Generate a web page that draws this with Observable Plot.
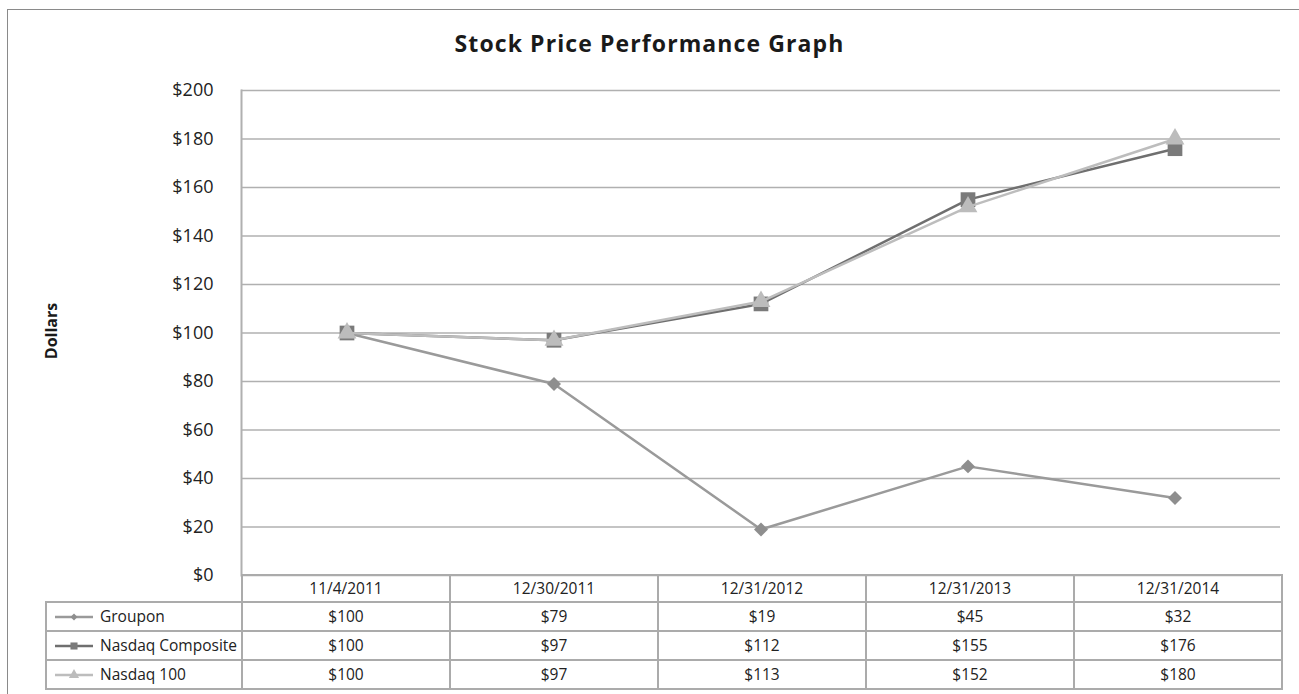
<!DOCTYPE html>
<html>
<head>
<meta charset="utf-8">
<script src="https://cdn.jsdelivr.net/npm/d3@7"></script>
<script src="https://cdn.jsdelivr.net/npm/@observablehq/plot@0.6"></script>
<style>
  html, body { margin: 0; padding: 0; background: #fff; }
  body { font-family: "Open Sans", sans-serif; color: #222; }
  #wrap { position: relative; width: 1299px; height: 694px; overflow: hidden; }
  #frame { position: absolute; left: 7px; top: 9px; width: 1320px; height: 720px; border: 1.5px solid #8a8a8a; box-sizing: border-box; }
  #title { position: absolute; left: 0; width: 1299px; top: 27px; text-align: center; font-weight: 700; font-size: 23px; letter-spacing: 1.1px; color: #1a1a1a; }
  #ylab { position: absolute; left: 51px; top: 331px; transform: translate(-50%, -50%) rotate(-90deg); font-weight: 700; font-size: 16px; color: #1a1a1a; white-space: nowrap; }
  #chart { position: absolute; left: 0; top: 0; }
  #tbl { position: absolute; left: 45px; top: 574px; border-collapse: collapse; table-layout: fixed; width: 1236px; font-size: 15.5px; color: #222; }
  #tbl td { border: 2px solid #ababab; text-align: center; padding: 0; height: 27px; line-height: 25px; white-space: nowrap; overflow: hidden; }
  #tbl tr.hdr td { height: 25px; }
  #tbl td.blank { border-top: none; border-left: none; }
  #tbl td.name { text-align: left; padding-left: 8px; }
  #tbl td.name svg { vertical-align: middle; margin-right: 7px; position: relative; top: -1px; }
</style>
</head>
<body>
<div id="wrap">
  <div id="frame"></div>
  <div id="chart"></div>
  <div id="title">Stock Price Performance Graph</div>
  <div id="ylab">Dollars</div>
  <table id="tbl"></table>
</div>
<script>
const dates = ["11/4/2011", "12/30/2011", "12/31/2012", "12/31/2013", "12/31/2014"];
const seriesNames = ["Groupon", "Nasdaq Composite", "Nasdaq 100"];
const groupon = [100, 79, 19, 45, 32];
const composite = [100, 97, 112, 155, 176];
const nasdaq100 = [100, 97, 113, 152, 180];
const yTicks = [0, 20, 40, 60, 80, 100, 120, 140, 160, 180, 200];

const lineColors = ["#9a9a9a", "#6f6f6f", "#bdbdbd"];
const markColors = ["#8e8e8e", "#7a7a7a", "#bcbcbc"];
const symbols = ["diamond2", "square", "triangle"];
const symbolR = [6.3, 8.3, 7];

const seriesValues = [groupon, composite, nasdaq100];
const rows = [];
seriesValues.forEach((vals, s) => vals.forEach((v, i) => rows.push({series: seriesNames[s], s, date: dates[i], value: v})));

const marks = [
  Plot.gridY(yTicks, {stroke: "#b0b0b0", strokeOpacity: 1, strokeWidth: 1.5}),
  Plot.axisY(yTicks, {tickSize: 0, tickPadding: 28, tickFormat: d => "$" + d, fontSize: 18, label: null, fill: "#222"}),
  Plot.frame({anchor: "left", stroke: "#b0b0b0", strokeWidth: 2})
];
seriesNames.forEach((name, s) => {
  const data = rows.filter(r => r.s === s);
  marks.push(Plot.line(data, {x: "date", y: "value", stroke: lineColors[s], strokeWidth: 2.5}));
  marks.push(Plot.dot(data, {x: "date", y: "value", symbol: () => symbols[s], r: symbolR[s], fill: markColors[s], stroke: "none"}));
});

const chart = Plot.plot({
  width: 1299, height: 694,
  marginLeft: 241, marginRight: 19, marginTop: 90, marginBottom: 119,
  style: {fontFamily: "Open Sans, sans-serif", background: "transparent", overflow: "visible"},
  x: {type: "band", domain: dates, padding: 0, axis: null},
  y: {domain: [0, 200], axis: null},
  marks
});
document.getElementById("chart").appendChild(chart);

// Data table with legend swatches
const tbl = d3.select("#tbl");
const cg = tbl.append("colgroup");
cg.append("col").style("width", "196px");
dates.forEach(() => cg.append("col").style("width", "208px"));
const hdr = tbl.append("tr").attr("class", "hdr");
hdr.append("td").attr("class", "blank");
dates.forEach(d => hdr.append("td").text(d));
const symMap = {diamond2: d3.symbolDiamond2, square: d3.symbolSquare, triangle: d3.symbolTriangle};
seriesNames.forEach((name, s) => {
  const tr = tbl.append("tr");
  const td = tr.append("td").attr("class", "name");
  const sv = td.append("svg").attr("width", 38).attr("height", 12);
  sv.append("line").attr("x1", 0).attr("x2", 38).attr("y1", 6).attr("y2", 6).attr("stroke", lineColors[s]).attr("stroke-width", 2.5);
  sv.append("path").attr("transform", "translate(19,6)").attr("d", d3.symbol(symMap[symbols[s]], [30, 50, 45][s])()).attr("fill", markColors[s]);
  td.append("span").text(name);
  seriesValues[s].forEach(v => tr.append("td").text("$" + v));
});
</script>
</body>
</html>
